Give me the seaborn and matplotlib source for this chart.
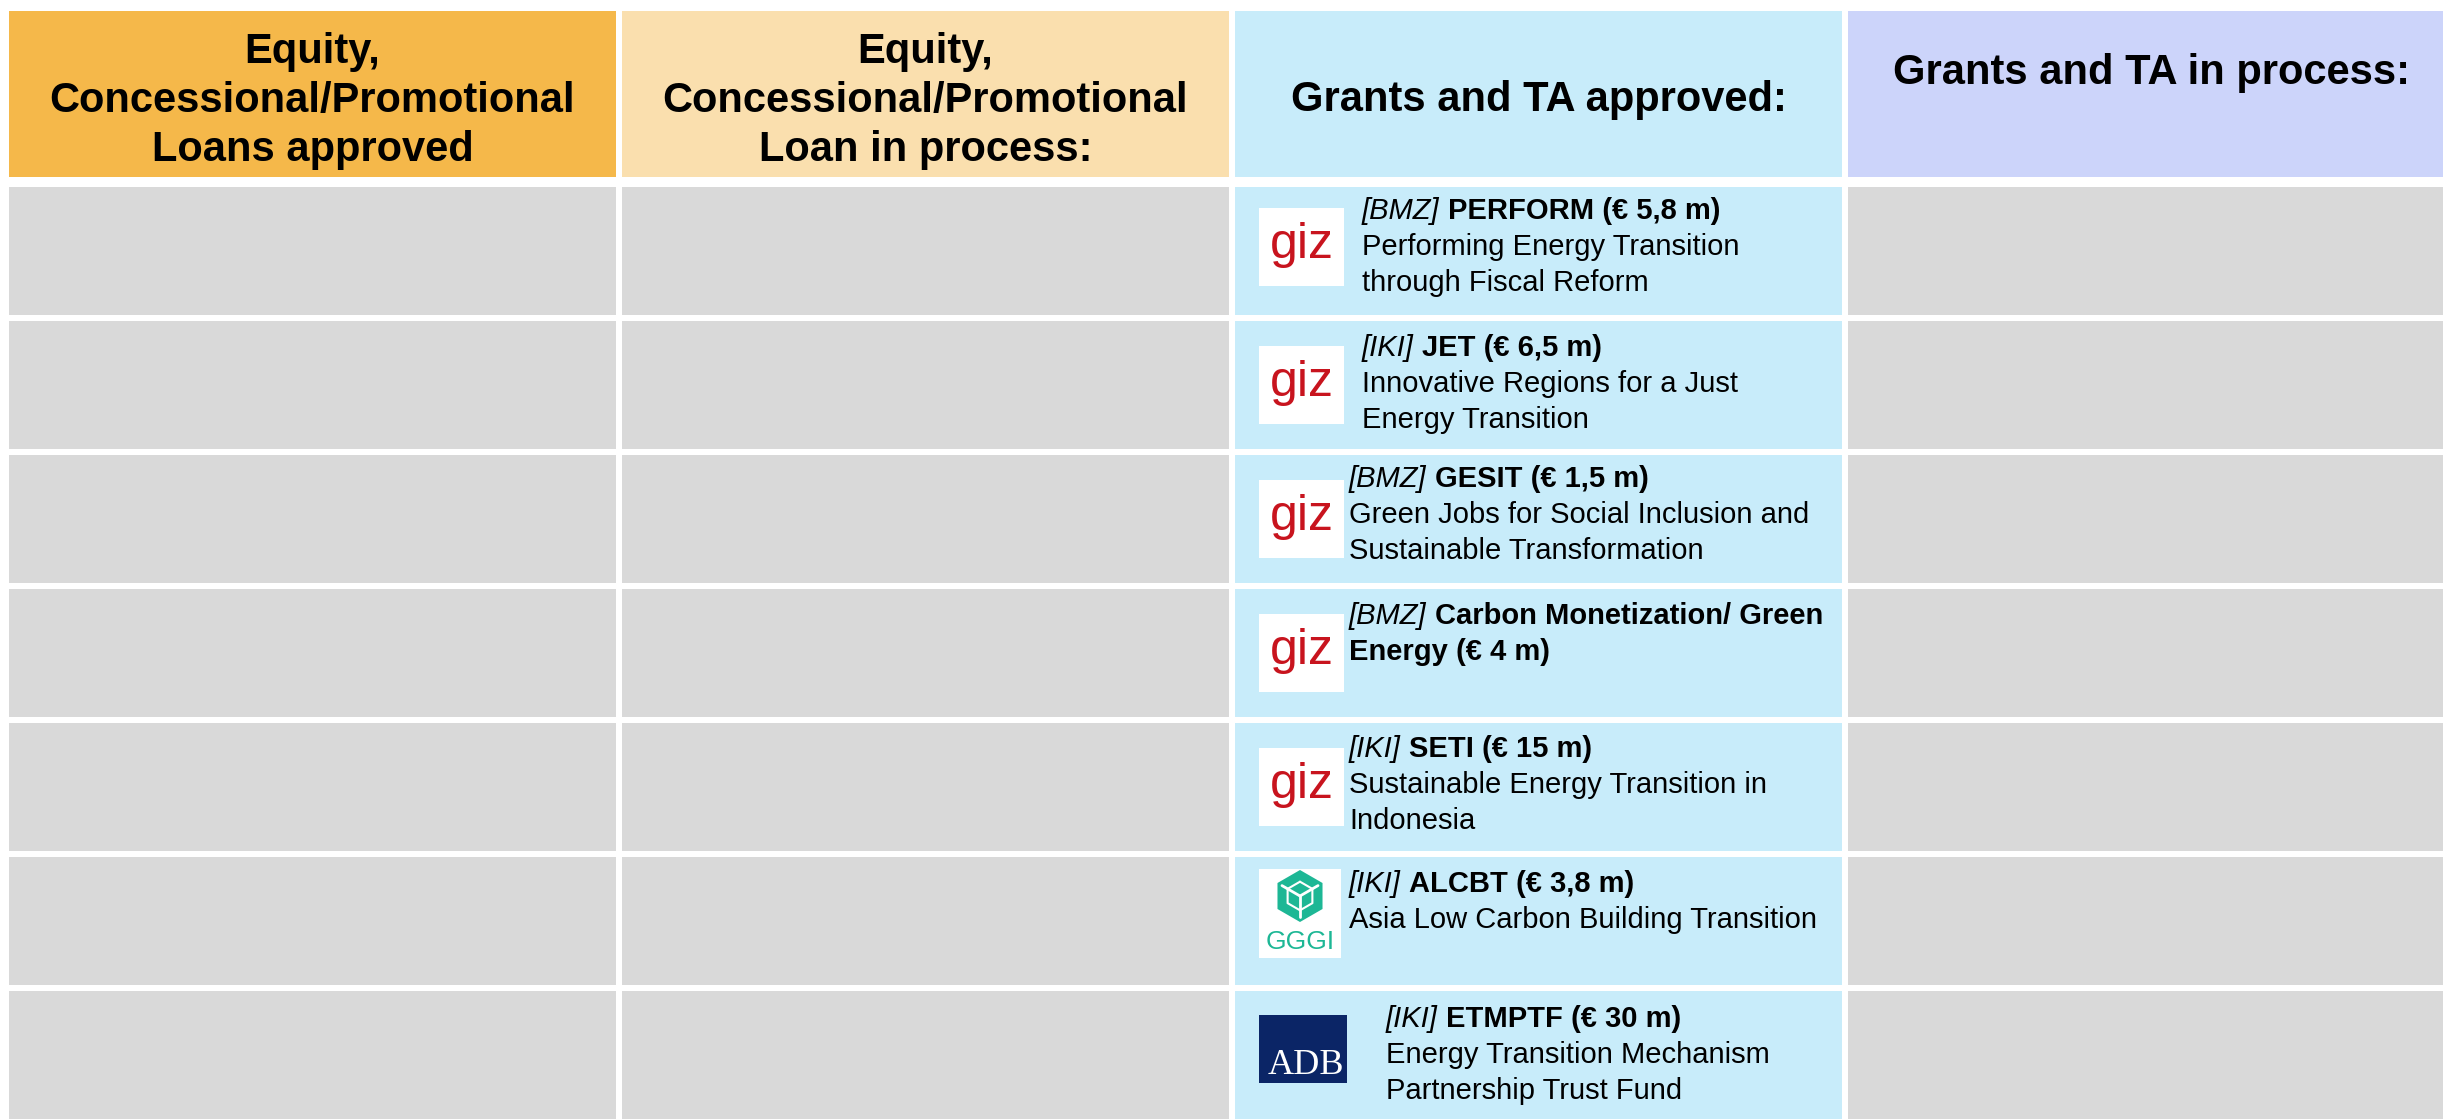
import matplotlib.pyplot as plt
import numpy as np
import pandas as pd
import seaborn as sns
from matplotlib.colors import ListedColormap
from matplotlib.patches import Rectangle, Polygon

# ---- table content ----
columns = ["Equity,\nConcessional/Promotional\nLoans approved",
           "Equity,\nConcessional/Promotional\nLoan in process:",
           "Grants and TA approved:",
           "Grants and TA in process:"]
funders = ["[BMZ]", "[IKI]", "[BMZ]", "[BMZ]", "[IKI]", "[IKI]", "[IKI]"]
titles = ["PERFORM (€ 5,8 m)",
          "JET (€ 6,5 m)",
          "GESIT (€ 1,5 m)",
          "Carbon Monetization/ Green\nEnergy (€ 4 m)",
          "SETI (€ 15 m)",
          "ALCBT (€ 3,8 m)",
          "ETMPTF (€ 30 m)"]
descriptions = ["Performing Energy Transition\nthrough Fiscal Reform",
                "Innovative Regions for a Just\nEnergy Transition",
                "Green Jobs for Social Inclusion and\nSustainable Transformation",
                "",
                "Sustainable Energy Transition in\nIndonesia",
                "Asia Low Carbon Building Transition",
                "Energy Transition Mechanism\nPartnership Trust Fund"]
agencies = ["giz", "giz", "giz", "giz", "giz", "GGGI", "ADB"]

# fill codes: 0 empty, 1 loans approved, 2 loans in process,
# 3 grants approved, 4 grants in process
header_codes = [1, 2, 3, 4]
body_codes = [0, 0, 3, 0]

# ---- styling / layout (pixels at dpi 100) ----
palette = ["#d9d9d9", "#f5b84a", "#fadfae", "#c8ecfa", "#ccd4fa"]
W, H = 2443, 1120
left = 6
col_w = 613
head_top, head_bot = 8, 180
body_top = 184
row_h = 134
head_center_px = [98, 98, 97, 70]
text_x_px = [130, 130, 117, 117, 117, 117, 154]
first_line_px = [26, 29, 26, 29, 28, 29, 30]
line_gap_px = 36
logo_left_px = 27
logo_top_px = [24, 28, 28, 28, 28, 15, 27]
logo_size = {"giz": (85, 78), "GGGI": (82, 89), "ADB": (88, 68)}
body_fs = 21
head_fs = 30

sns.set_theme(style="white")
plt.rcParams["font.family"] = ["Liberation Sans", "DejaVu Sans"]

fig = plt.figure(figsize=(W / 100, H / 100), dpi=100)
fig.patch.set_facecolor("white")
cmap = ListedColormap(palette)

ax_head = fig.add_axes([left / W, 1 - head_bot / H, 4 * col_w / W, (head_bot - head_top) / H])
ax_body = fig.add_axes([left / W, 1 - (body_top + 7 * row_h) / H, 4 * col_w / W, 7 * row_h / H])

head_df = pd.DataFrame([header_codes], columns=columns)
body_df = pd.DataFrame(np.tile(body_codes, (len(titles), 1)), columns=columns)

for ax, df in [(ax_head, head_df), (ax_body, body_df)]:
    sns.heatmap(df, ax=ax, cmap=cmap, vmin=-0.5, vmax=4.5, cbar=False,
                linewidths=2.9, linecolor="white",
                xticklabels=False, yticklabels=False)
    ax.set_xlabel("")
    ax.set_ylabel("")

# header labels
hh = head_bot - head_top
for j, label in enumerate(columns):
    lines = label.split("\n")
    n = len(lines)
    for k, line in enumerate(lines):
        yc = head_center_px[j] + (k - (n - 1) / 2) * 48.5
        ax_head.text(j + 0.5, (yc + 14 - head_top) / hh, line, ha="center",
                     va="baseline", fontsize=head_fs, fontweight="bold", color="black")


def bx(col, px):
    return col + px / col_w


def by(row, px):
    return row + px / row_h


renderer = fig.canvas.get_renderer()
space_px = 0.278 * body_fs * 100 / 72

# project text in the grants column
for i in range(len(titles)):
    x0 = text_x_px[i]
    title_lines = titles[i].split("\n")
    desc_lines = descriptions[i].split("\n") if descriptions[i] else []
    k = 0
    for t_idx, tl in enumerate(title_lines):
        y = by(i, first_line_px[i] + k * line_gap_px + 9)
        xpx = x0
        if t_idx == 0:
            t = ax_body.text(bx(2, xpx), y, funders[i], ha="left", va="baseline",
                             fontsize=body_fs, fontstyle="italic", color="black")
            xpx += t.get_window_extent(renderer).width + space_px
        ax_body.text(bx(2, xpx), y, tl, ha="left", va="baseline",
                     fontsize=body_fs, fontweight="bold", color="black")
        k += 1
    for dl in desc_lines:
        y = by(i, first_line_px[i] + k * line_gap_px + 9)
        ax_body.text(bx(2, x0), y, dl, ha="left", va="baseline",
                     fontsize=body_fs, color="black")
        k += 1

# agency logos
teal = "#1db795"
for i, agency in enumerate(agencies):
    w, h = logo_size[agency]
    lx, ly = logo_left_px, logo_top_px[i]
    face = "#0b2566" if agency == "ADB" else "white"
    ax_body.add_patch(Rectangle((bx(2, lx), by(i, ly)), w / col_w, h / row_h,
                                facecolor=face, edgecolor="none", zorder=3))
    cx = lx + w / 2
    if agency == "giz":
        ax_body.text(bx(2, cx), by(i, ly + 50), "giz", ha="center", va="baseline",
                     fontsize=36, color="#c8141e", zorder=4)
    elif agency == "GGGI":
        cy, r = ly + 27, 26
        ang = np.deg2rad(90 + 60 * np.arange(6))
        verts = [(bx(2, cx + r * np.cos(a)), by(i, cy - r * np.sin(a))) for a in ang]
        ax_body.add_patch(Polygon(verts, closed=True, facecolor=teal,
                                  edgecolor="none", zorder=4))
        for a in np.deg2rad([30, 150, 270]):
            ax_body.plot([bx(2, cx), bx(2, cx + r * 0.8 * np.cos(a))],
                         [by(i, cy), by(i, cy - r * 0.8 * np.sin(a))],
                         color="white", lw=2, zorder=5)
        ang2 = np.deg2rad(90 + 60 * np.arange(7))
        ax_body.plot([bx(2, cx + r * 0.55 * np.cos(a)) for a in ang2],
                     [by(i, cy - r * 0.55 * np.sin(a)) for a in ang2],
                     color="white", lw=1.5, zorder=5)
        ax_body.text(bx(2, cx), by(i, ly + 80), "GGGI", ha="center", va="baseline",
                     fontsize=19, color=teal, zorder=4)
    else:
        ax_body.text(bx(2, cx + 3), by(i, ly + 59), "ADB", ha="center", va="baseline",
                     fontsize=26, color="white", zorder=4, family="Liberation Serif")

fig.savefig("out.png", dpi=100, facecolor="white")
